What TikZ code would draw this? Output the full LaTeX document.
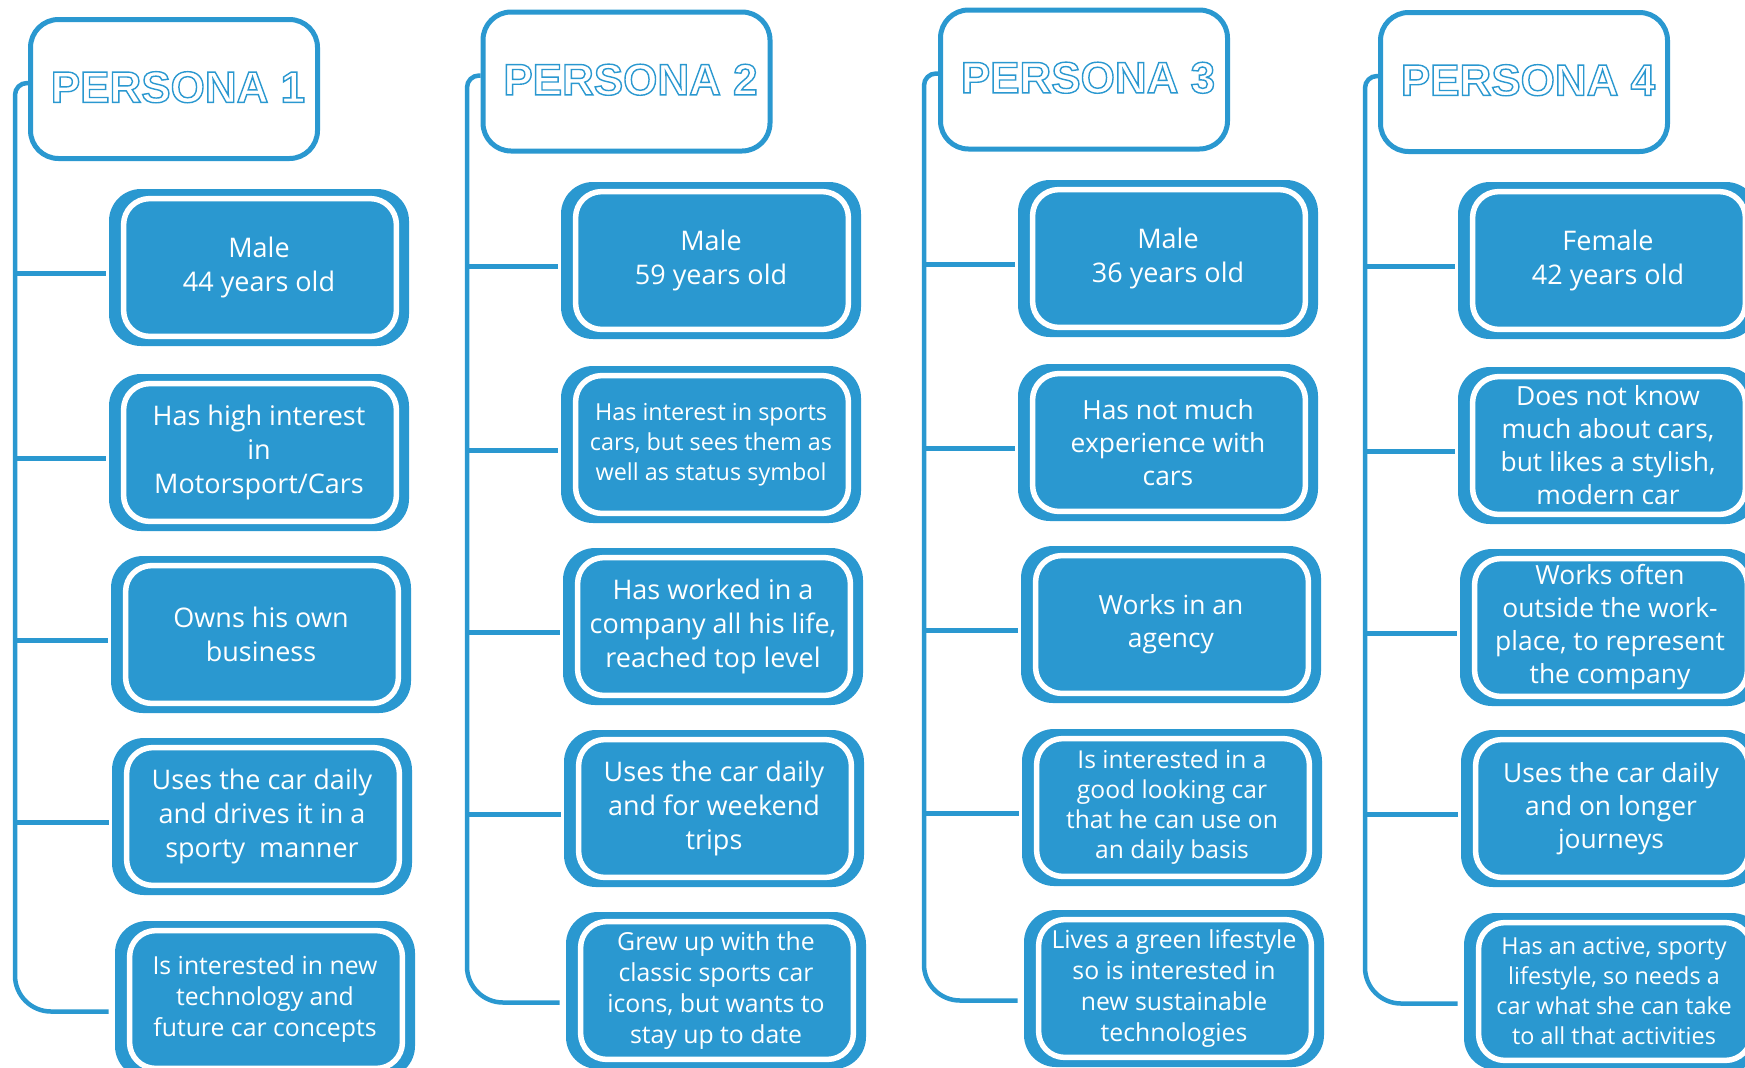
\documentclass[tikz,border=0pt]{standalone}
\usepackage{fontspec}
\setmainfont{Open Sans}
\newfontfamily\headfont{Liberation Sans}
\usetikzlibrary{calc}
\definecolor{pblue}{RGB}{42,152,208}

% hollow, outlined title lettering (stroke-only text rendering)
\newcommand\outlined[1]{\special{pdf:literal direct 1 Tr 0.7 w}#1\special{pdf:literal direct 0 Tr}}

\tikzset{
  conn/.style={draw=pblue, line width=2.25pt},
  phead/.style={draw=pblue, line width=2.5pt, fill=white, rounded corners=14pt,
    minimum width=143.5pt, minimum height=69.5pt, inner sep=0pt, text=pblue,
    font=\headfont\bfseries\fontsize{22pt}{26pt}\selectfont},
  pbox/.style={fill=pblue, rounded corners=16pt, minimum width=150pt,
    minimum height=78.5pt, inner sep=0pt, text=white, align=center},
  pinner/.style={draw=white, line width=2.75pt, rounded corners=13pt},
  tL/.style={font=\fontsize{13.5pt}{17pt}\selectfont},
  tM/.style={font=\fontsize{13.2pt}{16.5pt}\selectfont},
  tS/.style={font=\fontsize{12.4pt}{15.5pt}\selectfont},
  tXS/.style={font=\fontsize{11.7pt}{15pt}\selectfont},
  tXSw/.style={font=\fontsize{12.3pt}{15pt}\selectfont},
}

% #1 name, #2 left x, #3 top y, #4 text style, #5 text
\newcommand\infobox[5]{%
  \node[pbox, #4] (#1) at ({#2+150},{#3+78.5}) {#5};
  \draw[pinner] ($(#1.south west)+(15,-10)$) rectangle ($(#1.north east)+(-13,10)$);
}

% #1 column id, #2 x of the spine
\newcommand\spine[2]{%
  \coordinate (v#1) at (#2,0);
  \draw[conn] ($(h#1.west)+(0,-6)$) [rounded corners=6pt] -| ($(v#1)+(0,500)$)
     [rounded corners=18pt] |- ([xshift=-3pt,yshift=-6pt]b#15.west);
  \foreach \k in {1,...,4}
    \draw[conn] (v#1 |- {$(b#1\k.west)+(0,6)$}) -- ([xshift=-1.5pt,yshift=-3pt]b#1\k.west);
}

% title text inside a header box
\newcommand\headtitle[1]{\raisebox{2pt}{\hspace*{4pt}\outlined{#1}}}

\begin{document}
\begin{tikzpicture}[x=0.5pt,y=-0.5pt]
\useasboundingbox (0,0) rectangle (1745,1067);
\clip (0,0) rectangle (1745,1067);

% ---- persona 1 ----
\node[phead] (h1) at (174,89) {\headtitle{PERSONA 1}};
\infobox{b11}{109}{189}{tL}{Male\\44 years old}
\infobox{b12}{109}{374}{tL}{Has high interest\\in\\Motorsport/Cars}
\infobox{b13}{111}{556}{tL}{Owns his own\\business}
\infobox{b14}{112}{738}{tL}{Uses the car daily\\and drives it in a\\sporty\ \ manner}
\infobox{b15}{115}{921}{tS}{Is interested in new\\technology and\\future car concepts}
\spine{1}{15}

% ---- persona 2 ----
\node[phead] (h2) at (626.5,81.5) {\headtitle{PERSONA 2}};
\infobox{b21}{561}{182}{tL}{Male\\59 years old}
\infobox{b22}{561}{366}{tXS}{Has interest in sports\\cars, but sees them as\\well as status symbol}
\infobox{b23}{563}{548}{tL}{Has worked in a\\company all his life,\\reached top level}
\infobox{b24}{564}{730}{tL}{Uses the car daily\\and for weekend\\trips}
\infobox{b25}{566}{912}{tS}{Grew up with the\\classic sports car\\icons, but wants to\\stay up to date}
\spine{2}{467}

% ---- persona 3 ----
\node[phead] (h3) at (1084,79.5) {\headtitle{PERSONA 3}};
\infobox{b31}{1018}{180}{tL}{Male\\36 years old}
\infobox{b32}{1018}{364}{tM}{Has not much\\experience with\\cars}
\infobox{b33}{1021}{546}{tM}{Works in an\\agency}
\infobox{b34}{1022}{729}{tXSw}{Is interested in a\\good looking car\\that he can use on\\an daily basis}
\infobox{b35}{1024}{910}{tS}{Lives a green lifestyle\\so is interested in\\new sustainable\\technologies}
\spine{3}{924}

% ---- persona 4 ----
\node[phead] (h4) at (1524,82) {\headtitle{PERSONA 4}};
\infobox{b41}{1458}{182}{tL}{Female\\42 years old}
\infobox{b42}{1458}{367}{tM}{Does not know\\much about cars,\\but likes a stylish,\\modern car}
\infobox{b43}{1460}{549}{tM}{Works often\\outside the work-\\place, to represent\\the company}
\infobox{b44}{1461}{730}{tM}{Uses the car daily\\and on longer\\journeys}
\infobox{b45}{1464}{913}{tXS}{Has an active, sporty\\lifestyle, so needs a\\car what she can take\\to all that activities}
\spine{4}{1365}
\end{tikzpicture}
\end{document}
